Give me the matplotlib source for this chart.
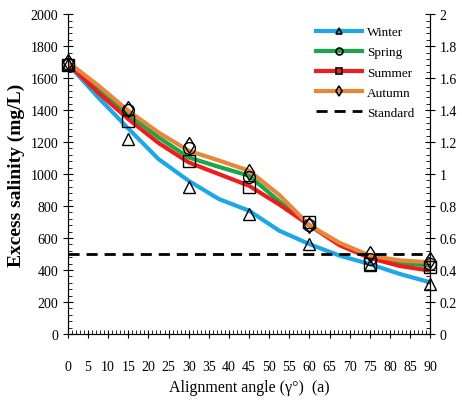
import matplotlib.pyplot as plt
from matplotlib.ticker import MultipleLocator, FuncFormatter

plt.rcParams['font.family'] = ['Liberation Serif', 'DejaVu Serif']

# fitted curves (at 7.5 degree steps)
angle_line = [0, 7.5, 15, 22.5, 30, 37.5, 45, 52.5, 60, 67.5, 75, 82.5, 90]
winter_line = [1690, 1480, 1285, 1094, 958, 844, 771, 646, 562, 490, 437, 375, 323]
spring_line = [1690, 1540, 1375, 1230, 1104, 1045, 990, 830, 680, 560, 480, 445, 427]
summer_line = [1690, 1510, 1344, 1195, 1073, 1000, 927, 810, 680, 555, 475, 425, 396]
autumn_line = [1700, 1555, 1396, 1260, 1146, 1085, 1021, 870, 680, 570, 490, 460, 448]

# measured points
angle = [0, 15, 30, 45, 60, 75, 90]
winter = [1690, 1220, 920, 750, 560, 430, 310]
spring = [1690, 1400, 1160, 980, 680, 470, 440]
summer = [1680, 1330, 1080, 920, 700, 440, 420]
autumn = [1700, 1410, 1180, 1010, 680, 500, 460]
standard = 500

fig = plt.figure(figsize=(4.62, 4.10), dpi=100)
ax = fig.add_axes([0.147, 0.183, 0.784, 0.78])

series = [
    (winter_line, winter, '#1ea7e6', '^', 'Winter'),
    (spring_line, spring, '#1aa64a', 'o', 'Spring'),
    (summer_line, summer, '#ee1c1c', 's', 'Summer'),
    (autumn_line, autumn, '#e8863a', 'd', 'Autumn'),
]
for line, pts, color, marker, label in series:
    ax.plot(angle_line, line, color=color, lw=3, solid_capstyle='round')
    ax.plot(angle, pts, ls='none', marker=marker, ms=8.5, mfc='none', mec='black',
            mew=1, clip_on=False, zorder=4)
    # legend proxy
    ax.plot([], [], color=color, lw=3, marker=marker, ms=5, mfc='none', mec='black',
            mew=1.2, label=label)

ax.axhline(standard, color='black', ls=(0, (4, 2.5)), lw=2, label='Standard')

ax.set_xlim(0, 90)
ax.set_ylim(0, 2000)
ax.xaxis.set_major_locator(MultipleLocator(5))
ax.xaxis.set_minor_locator(MultipleLocator(1))
ax.yaxis.set_major_locator(MultipleLocator(200))
ax.yaxis.set_minor_locator(MultipleLocator(40))
ax.tick_params(axis='x', which='major', direction='inout', length=6, pad=16, labelsize=10)
ax.tick_params(axis='x', which='minor', direction='in', length=3)
ax.tick_params(axis='y', which='major', direction='inout', length=7, labelsize=10)
ax.tick_params(axis='y', which='minor', direction='in', length=3)
ax.spines['top'].set_visible(False)

ax2 = ax.twinx()
ax2.set_ylim(0, 2)
ax2.yaxis.set_major_locator(MultipleLocator(0.2))
ax2.yaxis.set_minor_locator(MultipleLocator(0.04))
ax2.yaxis.set_major_formatter(FuncFormatter(lambda v, p: f'{v:g}'))
ax2.tick_params(axis='y', which='major', direction='inout', length=7, labelsize=10)
ax2.tick_params(axis='y', which='minor', direction='in', length=3)
ax2.spines['top'].set_visible(False)

ax.set_xlabel('Alignment angle (\u03b3\u00b0)  (a)', fontsize=11.5)
ax.set_ylabel('Excess salinity (mg/L)', fontsize=14, fontweight='bold')

ax.legend(loc='upper right', bbox_to_anchor=(0.99, 1.0), frameon=False, fontsize=9.5,
          handlelength=3.5, labelspacing=0.6, handletextpad=0.4)

fig.savefig('out.png', dpi=100)
